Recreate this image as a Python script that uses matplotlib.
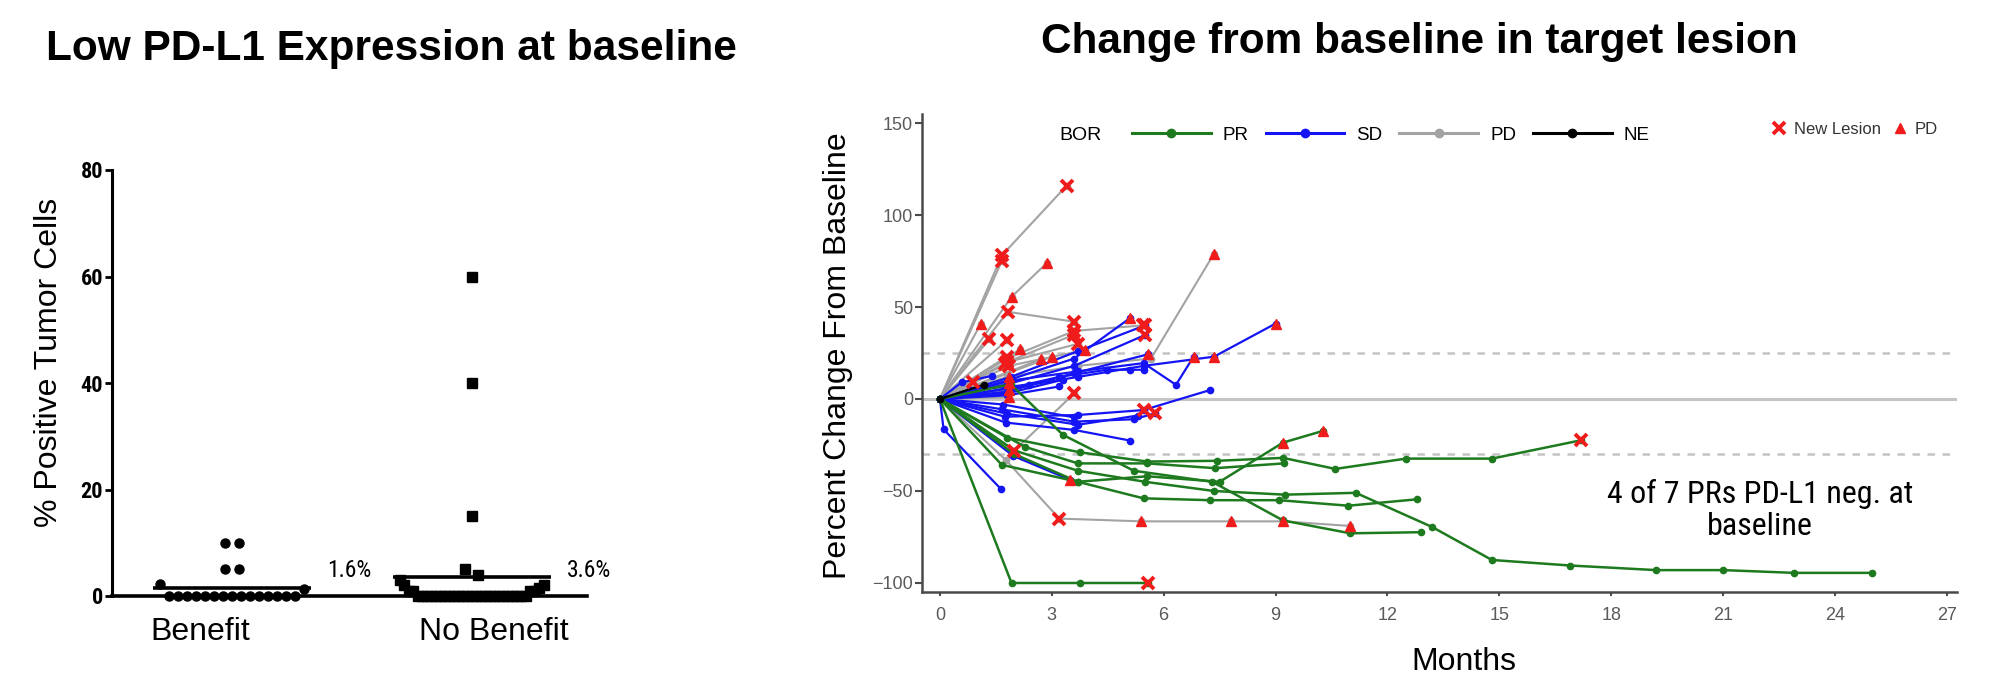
import numpy as np
import matplotlib
matplotlib.use('Agg')
import matplotlib.pyplot as plt
from matplotlib.lines import Line2D
from matplotlib import font_manager

plt.rcParams['font.family'] = ['Liberation Sans', 'DejaVu Sans']

# pick a condensed face if one is installed, else plain Liberation Sans
_names = {f.name for f in font_manager.fontManager.ttflist}
_narrow = [n for n in ['Liberation Sans Narrow', 'DejaVu Sans Condensed',
                       'Roboto Condensed', 'Open Sans Condensed'] if n in _names]
NARROW = (_narrow[:1] if _narrow else []) + ['Liberation Sans', 'DejaVu Sans']
HAS_NARROW = bool(_narrow)

# ---------------- left panel: % PD-L1 positive tumour cells
benefit = [10, 10, 5, 5, 2.2, 1.3] + [0] * 15
no_benefit = [60, 40, 15, 5, 4, 3, 2, 2, 1.5, 1, 1, 1, 1] + [0] * 25
groups = ['Benefit', 'No Benefit']
mean_labels = ['1.6%', '3.6%']

# ---------------- right panel: spider plot, months / % change
# event codes per point: '.' none, 'x' new lesion, '^' PD
pr_months = [
    [0, 1.92, 3.76, 5.58],
    [0, 2.0, 3.7, 5.5, 7.35, 9.25, 11.15, 13.2, 14.8, 16.9, 19.2, 21.0, 22.9, 25.0],
    [0, 1.9, 3.3, 5.2, 7.3, 9.2, 11.0, 12.9],
    [0, 2.0, 3.7, 5.46, 7.25, 9.1, 10.95, 12.8],
    [0, 1.66, 3.7, 5.56, 7.5, 9.2, 10.26],
    [0, 2.28, 3.7, 5.56, 7.38, 9.23],
    [0, 1.8, 3.76, 5.56, 7.43, 9.2, 10.6, 12.5, 14.8, 17.2],
]
pr_pct = [
    [0, -100, -100, -100],
    [0, -28, -39, -45, -50, -52, -51, -69.6, -87.5, -90.5, -93, -93, -94.5, -94.5],
    [0, 8, -19.5, -39, -45, -66, -73, -72.4],
    [0, -30, -45, -54, -55, -55, -58, -54.5],
    [0, -35.8, -45, -42, -45, -23.7, -17.4],
    [0, -26, -35, -35, -37.6, -35],
    [0, -21, -29, -34, -33.6, -32, -38, -32.4, -32.4, -22.4],
]
pr_event = ['...x', '..............', '........', '........', '.....^^', '......', '.........x']

sd_months = [
    [0, 0.1, 1.64],
    [0, 1.76, 3.6, 5.1],
    [0, 1.74, 3.7, 5.46, 7.25],
    [0, 1.66, 3.6, 5.2, 5.77],
    [0, 1.97, 3.5],
    [0, 1.8, 3.6, 5.1],
    [0, 1.9, 3.7, 5.5],
    [0, 1.8, 3.6, 5.5],
    [0, 1.9, 3.7, 5.46, 6.33, 6.8],
    [0, 1.9, 3.7, 5.46, 7.35, 9.0],
    [0, 1.9, 3.2, 4.48, 5.1, 5.46],
    [0, 1.8, 3.6, 5.58],
    [0, 0.58, 1.4],
    [0, 1.8, 3.3],
    [0, 1.8, 3.2],
    [0, 0.8, 2.4],
    [0, 1.7, 3.6],
    [0, 1.8, 3.7, 5.3],
]
sd_pct = [
    [0, -16.5, -49],
    [0, -12.8, -16.8, -22.6],
    [0, -9.6, -8.7, -6, 4.9],
    [0, -5.6, -12.3, -11, -7.8],
    [0, -31, -44],
    [0, 10, 22, 44],
    [0, 12, 26, 40],
    [0, 8, 18, 34.8],
    [0, 10, 15, 19.5, 7.7, 23],
    [0, 6, 12, 18, 23, 41],
    [0, 6, 12, 15.9, 15.9, 15.9],
    [0, 4, 14, 24.3],
    [0, 9, 12.6],
    [0, 3, 10.5],
    [0, 2, 6.8],
    [0, 5, 7.7],
    [0, -3, -10],
    [0, -8, -14, -9],
]
sd_event = ['...', '....', '...x.', '....x', '..^', '...^', '...x', '...x',
            '.....^', '....^^', '......', '...^', '...', '...', '...', '...', '...', '....']

pd_months = [
    [0, 1.66, 3.4],
    [0, 1.66],
    [0, 1.92, 2.87],
    [0, 1.82, 3.6],
    [0, 1.1],
    [0, 1.32],
    [0, 1.8],
    [0, 2.15],
    [0, 1.8, 3.6, 5.45],
    [0, 1.8, 3.7, 5.66, 7.35],
    [0, 1.8, 3.7],
    [0, 1.85, 3.9],
    [0, 2.0, 3.6],
    [0, 1.76, 3.2, 5.4, 7.8, 9.2, 11.0],
    [0, 1.8],
    [0, 0.9],
    [0, 1.85],
    [0, 1.85],
    [0, 1.8, 3.6],
    [0, 2.7],
    [0, 3.0],
    [0, 1.75],
    [0, 1.85],
    [0, 1.85],
]
pd_pct = [
    [0, 78, 116],
    [0, 75],
    [0, 55.5, 74],
    [0, 47.4, 42],
    [0, 41],
    [0, 32.4],
    [0, 32],
    [0, 27],
    [0, 22, 37, 40],
    [0, 12, 18, 22, 79],
    [0, 20, 30],
    [0, 18, 26.7],
    [0, -28, 3],
    [0, -33, -65, -66.5, -66.5, -66.5, -69],
    [0, 23],
    [0, 9.5],
    [0, 5],
    [0, 12],
    [0, 20, 35],
    [0, 21.6],
    [0, 23],
    [0, 19],
    [0, 8.5],
    [0, 1],
]
pd_event = ['.xx', '.x', '.^^', '.xx', '.^', '.x', '.x', '.^', '..xx', '....^', '.xx', '.x^',
            '.xx', '..x^^^^', '.x', '.x', '.^', '.^', '.xx', '.^', '.^', '.x', '.^', '.^']

ne_months = [[0, 1.17]]
ne_pct = [[0, 7.7]]
ne_event = ['..']

bor_names = ['PR', 'SD', 'PD', 'NE']
bor_colors = {'PR': '#1e7a1e', 'SD': '#1414f5', 'PD': '#a3a3a3', 'NE': '#000000'}
month_ticks = list(range(0, 28, 3))
pct_ticks = [-100, -50, 0, 50, 100, 150]
ref_lines = [25, -30]

RED = '#f01c1c'

W, H = 2014, 690
fig = plt.figure(figsize=(W / 100, H / 100), dpi=100)


def box(x0, y0, x1, y1):
    return [x0 / W, 1 - y1 / H, (x1 - x0) / W, (y1 - y0) / H]


def swarm(vals, center, gap=0.055, maxw=0.6, binw=3.5):
    # spread points that fall in the same value bin side by side,
    # biggest values on the outside, alternating left / right
    vals = np.asarray(vals, float)
    xs = np.full(len(vals), float(center))
    bins = np.floor(vals / binw)
    for b in np.unique(bins):
        idx = np.where(bins == b)[0]
        idx = idx[np.argsort(-vals[idx], kind='stable')]
        n = len(idx)
        if n < 2:
            continue
        g = min(gap, maxw / (n - 1))
        slots = (np.arange(n) - (n - 1) / 2) * g
        order = np.argsort(-np.abs(np.round(slots, 9)), kind='stable')
        xs[idx] = center + slots[order]
    return xs


# ================= left panel
ax1 = fig.add_axes(box(112, 170, 587, 596))
ax1.set_xlim(0.5, 2.48)
ax1.set_ylim(0, 80)
for s in ['top', 'right']:
    ax1.spines[s].set_visible(False)
ax1.spines['left'].set_linewidth(2.2)
ax1.spines['bottom'].set_linewidth(2.6)
ax1.set_yticks([0, 20, 40, 60, 80])
ax1.set_xticks([1, 2])
ax1.set_xticklabels(['', ''])
ax1.tick_params(axis='y', length=5, width=2, pad=1.5)
ax1.tick_params(axis='x', length=3, width=1.5)
for lab in ax1.get_yticklabels():
    lab.set_family(NARROW)
    lab.set_fontweight('bold')
    lab.set_fontsize(16 if HAS_NARROW else 14.5)

label_off = [-0.133, 0.09]
for i, (vals, mk) in enumerate([(benefit, 'o'), (no_benefit, 's')]):
    c = i + 1
    xs = swarm(vals, c)
    ax1.plot(xs, vals, ls='none', marker=mk, ms=6.5, color='black',
             clip_on=False, zorder=3)
    m = np.mean(vals)
    ax1.plot([c - 0.33, c + 0.33], [m, m], color='black', lw=2.6,
             solid_capstyle='butt', clip_on=False, zorder=4)
    ax1.text(c + 0.49, 4.7, mean_labels[i], ha='center', va='center',
             fontsize=17 if HAS_NARROW else 15, family=NARROW)
    ax1.text(c + label_off[i], -6.8, groups[i], ha='center', va='center',
             fontsize=23)

fig.text(391 / W, 1 - 49 / H, 'Low PD-L1 Expression at baseline',
         ha='center', va='center', fontsize=30.5, fontweight='bold')
fig.text(49 / W, 1 - 362 / H, '% Positive Tumor Cells', rotation=90,
         ha='center', va='center', fontsize=23)

# ================= right panel
ax2 = fig.add_axes(box(922, 114, 1957, 592))
ax2.set_xlim(-0.48, 27.27)
ax2.set_ylim(-104.9, 154.9)
for s in ['top', 'right']:
    ax2.spines[s].set_visible(False)
for s in ['left', 'bottom']:
    ax2.spines[s].set_linewidth(1.8)
    ax2.spines[s].set_color('#4a4a4a')
ax2.set_xticks(month_ticks)
ax2.set_yticks(pct_ticks)
ax2.tick_params(axis='y', length=5, width=1.5, color='#4a4a4a', pad=1.5,
                labelsize=13, labelcolor='#5a5a5a')
ax2.tick_params(axis='x', length=3, width=1.5, color='#4a4a4a', pad=7.5,
                labelsize=13, labelcolor='#5a5a5a')

ax2.axhline(0, color='#c4c4c4', lw=2.2, zorder=1)
for r in ref_lines:
    ax2.axhline(r, color='#c4c4c4', lw=1.8, ls=(0, (3, 3)), zorder=1)

series = [
    ('PD', pd_months, pd_pct, pd_event, 1.5),
    ('SD', sd_months, sd_pct, sd_event, 1.6),
    ('PR', pr_months, pr_pct, pr_event, 1.8),
    ('NE', ne_months, ne_pct, ne_event, 1.6),
]
for name, mlist, plist, elist, lw in series:
    for mo, pc in zip(mlist, plist):
        ax2.plot(mo, pc, color=bor_colors[name], lw=lw, marker='o', ms=4.5,
                 zorder=2)

for name, mlist, plist, elist, lw in series:
    for mo, pc, ev in zip(mlist, plist, elist):
        for xm, ym, e in zip(mo, pc, ev):
            if e == 'x':
                ax2.plot(xm, ym, marker='x', ms=8, mew=2.8, color=RED, zorder=5)
            elif e == '^':
                ax2.plot(xm, ym, marker='^', ms=7, color=RED, mec=RED, zorder=5)

fig.text(1419 / W, 1 - 42 / H, 'Change from baseline in target lesion',
         ha='center', va='center', fontsize=30.5, fontweight='bold')
fig.text(838 / W, 1 - 356 / H, 'Percent Change From Baseline', rotation=90,
         ha='center', va='center', fontsize=23)
fig.text(1464 / W, 1 - 662 / H, 'Months', ha='center', va='center', fontsize=23)
fig.text(1760 / W, 1 - 510 / H, '4 of 7 PRs PD-L1 neg. at\nbaseline',
         ha='center', va='center', fontsize=23 if HAS_NARROW else 20,
         family=NARROW, linespacing=1.15)

# BOR legend
fig.text(1059 / W, 1 - 135 / H, 'BOR', ha='left', va='center', fontsize=14)
handles = [Line2D([], [], color=bor_colors[k], lw=2.2, marker='o', ms=6)
           for k in bor_names]
fig.legend(handles, bor_names, loc='center left',
           bbox_to_anchor=(1132 / W, 1 - 135 / H), ncol=4, frameon=False,
           fontsize=13.5, handlelength=4.2, handletextpad=0.64,
           columnspacing=0.9, borderpad=0, borderaxespad=0)

# event legend
ev_handles = [Line2D([], [], ls='none', marker='x', ms=8, mew=2.8, color=RED),
              Line2D([], [], ls='none', marker='^', ms=7, color=RED)]
leg2 = fig.legend(ev_handles, ['New Lesion', 'PD'], loc='center left',
                  bbox_to_anchor=(1771 / W, 1 - 129 / H), ncol=2, frameon=False,
                  fontsize=12, handlelength=1.0, handletextpad=0.36,
                  columnspacing=0.66, borderpad=0, borderaxespad=0)
for t in leg2.get_texts():
    t.set_color('#333333')

fig.savefig('out.png', dpi=100)
